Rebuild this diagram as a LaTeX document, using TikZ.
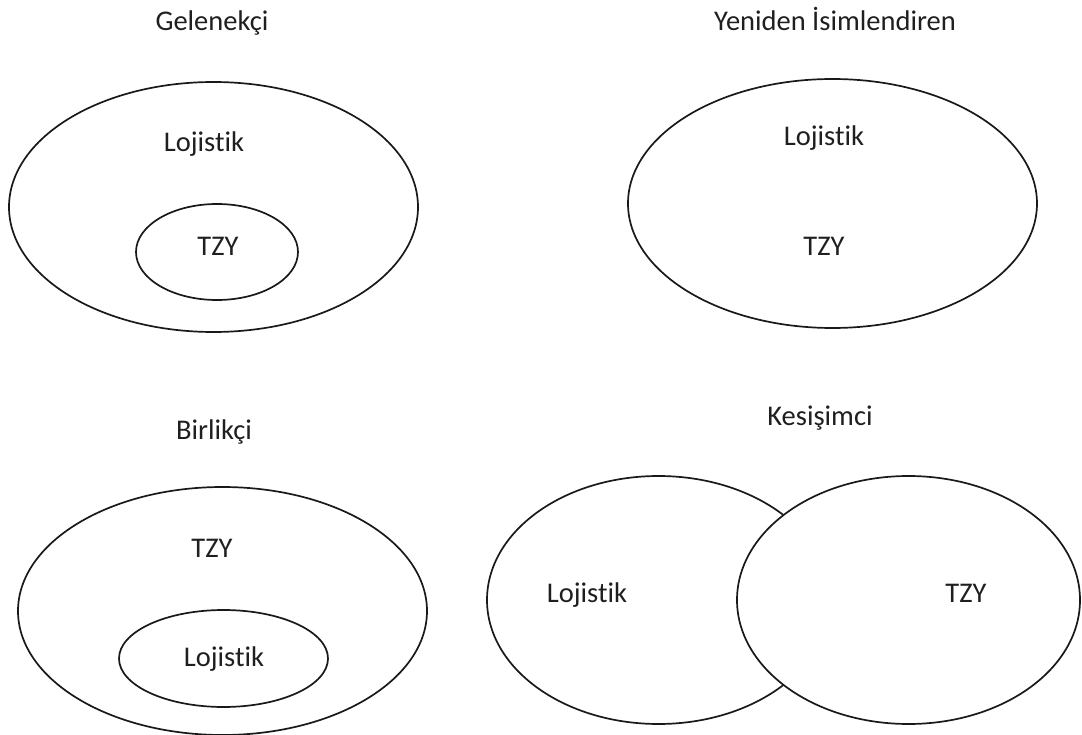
\documentclass[tikz,border=0pt]{standalone}
\usepackage{fontspec}
\setmainfont{Carlito}[Ligatures={NoCommon}]
\usetikzlibrary{shapes.geometric}
\begin{document}
\begin{tikzpicture}[x=1pt,y=-1pt,
  set/.style={draw=black!90,line width=1.7pt,ellipse,inner sep=0pt},
  lbl/.style={anchor=base,inner sep=0pt,font=\fontsize{28.5}{33}\selectfont,text=black!88}]
\useasboundingbox (0,0) rectangle (1082,735);

% Gelenekçi: TZY inside Lojistik
\node[set,minimum width=409pt,minimum height=250pt] (gOut) at (213.5,207) {};
\node[set,minimum width=162pt,minimum height=96pt] (gIn) at (217,252) {};
\node[lbl] (gTitle) at (212,31) {Gelenekçi};
\node[lbl] (gLoj) at (204,152) {Lojistik};
\node[lbl] (gTzy) at (218,256) {TZY};

% Yeniden İsimlendiren: one set, two names
\node[set,minimum width=409pt,minimum height=249pt] (yOut) at (832.5,203.5) {};
\node[lbl] (yTitle) at (835,31) {Yeniden İsimlendiren};
\node[lbl] (yLoj) at (824,146) {Lojistik};
\node[lbl] (yTzy) at (824,256) {TZY};

% Birlikçi: Lojistik inside TZY
\node[set,minimum width=409pt,minimum height=248pt] (bOut) at (222.5,611) {};
\node[set,minimum width=209pt,minimum height=97pt] (bIn) at (223.5,658.5) {};
\node[lbl] (bTitle) at (214,439) {Birlikçi};
\node[lbl] (bTzy) at (212,557) {TZY};
\node[lbl] (bLoj) at (224,666) {Lojistik};

% Kesişimci: overlapping sets, right one drawn over the left
\node[set,minimum width=343pt,minimum height=248pt] (kLeft) at (658.5,600) {};
\node[set,fill=white,minimum width=343pt,minimum height=248pt] (kRight) at (908.5,600) {};
\node[lbl] (kTitle) at (820,425) {Kesişimci};
\node[lbl] (kLoj) at (587,602) {Lojistik};
\node[lbl] (kTzy) at (966,602) {TZY};
\end{tikzpicture}
\end{document}
